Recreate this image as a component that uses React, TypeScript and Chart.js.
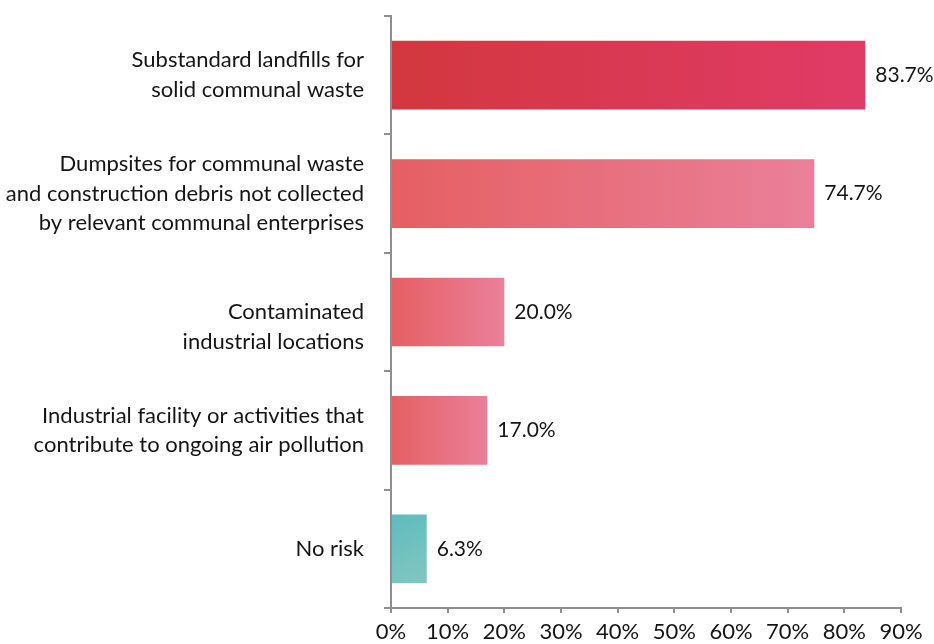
import React, { useEffect, useRef } from "react";
import { Chart, registerables } from "chart.js";

Chart.register(...registerables);

const categories: string[][] = [
  ["Substandard landfills for", "solid communal waste"],
  ["Dumpsites for communal waste", "and construction debris not collected", "by relevant communal enterprises"],
  ["", "Contaminated", "industrial locations"],
  ["Industrial facility or activities that", "contribute to ongoing air pollution"],
  ["No risk"],
];
const values: number[] = [83.7, 74.7, 20.0, 17.0, 6.3];
const valueLabels: string[] = ["83.7%", "74.7%", "20.0%", "17.0%", "6.3%"];
const gradientStops: [string, string][] = [
  ["#d3373e", "#e03b67"],
  ["#e55f62", "#ea809a"],
  ["#e55f62", "#ea809a"],
  ["#e55f62", "#ea809a"],
  ["#5fbbbf", "#82c7bf"],
];
const xTicks: number[] = [0, 10, 20, 30, 40, 50, 60, 70, 80, 90];

const FONT = "Lato, 'Open Sans', sans-serif";
const TEXT = "#151515";
const AXIS = "#8e8e8e";

const valueLabelPlugin = {
  id: "valueLabels",
  afterDatasetsDraw(chart: any) {
    const meta = chart.getDatasetMeta(0);
    const ctx = chart.ctx;
    ctx.save();
    ctx.font = `21px ${FONT}`;
    ctx.fillStyle = TEXT;
    ctx.textBaseline = "middle";
    ctx.textAlign = "left";
    meta.data.forEach((bar: any, i: number) => {
      ctx.fillText(valueLabels[i], bar.x + 10, bar.y);
    });
    ctx.restore();
  },
};

const zeroPad = (s: any) => {
  s.paddingTop = 0;
  s.paddingBottom = 0;
  s.paddingLeft = 0;
  s.paddingRight = 0;
};

export default function App() {
  const ref = useRef<HTMLCanvasElement | null>(null);
  useEffect(() => {
    if (!ref.current) return;
    const chart = new Chart(ref.current, {
      type: "bar",
      data: {
        labels: categories,
        datasets: [
          {
            data: values,
            backgroundColor: (c: any) => {
              const ch = c.chart;
              const i = c.dataIndex;
              if (i === undefined || !ch.chartArea) return gradientStops[0][0];
              const xs = ch.scales?.x;
              const ys = ch.scales?.y;
              if (!xs || !ys) return gradientStops[i][0];
              const x0 = xs.getPixelForValue(0);
              const x1 = xs.getPixelForValue(values[i]);
              const yc = ys.getPixelForValue(i);
              if (![x0, x1, yc].every((v) => Number.isFinite(v)) || x1 - x0 < 1) return gradientStops[i][0];
              const g = i === 4
                ? ch.ctx.createLinearGradient(x0, yc - 34, x1, yc + 34)
                : ch.ctx.createLinearGradient(x0, 0, x1, 0);
              g.addColorStop(0, gradientStops[i][0]);
              g.addColorStop(1, gradientStops[i][1]);
              return g;
            },
            borderWidth: 0,
            barPercentage: 0.58,
            categoryPercentage: 1,
          },
        ],
      },
      options: {
        indexAxis: "y",
        animation: false,
        responsive: true,
        maintainAspectRatio: false,
        layout: { padding: { top: 16, right: 33, left: 0, bottom: 0 } },
        plugins: {
          legend: { display: false },
          tooltip: { enabled: false },
        },
        scales: {
          x: {
            min: 0,
            max: 90,
            afterBuildTicks: (s: any) => {
              s.ticks = xTicks.map((v) => ({ value: v }));
            },
            afterFit: (s: any) => {
              s.height = 36;
              zeroPad(s);
            },
            grid: {
              drawOnChartArea: false,
              drawTicks: true,
              tickLength: 5,
              color: AXIS,
              lineWidth: 2,
            },
            border: { display: true, color: AXIS, width: 2 },
            ticks: {
              color: TEXT,
              font: { family: FONT, size: 22 },
              padding: 6,
              maxRotation: 0,
              callback: (v: any) => `${v}%`,
            },
          },
          y: {
            afterFit: (s: any) => {
              s.width = 391;
              zeroPad(s);
            },
            grid: {
              drawOnChartArea: false,
              drawTicks: true,
              tickLength: 7,
              color: AXIS,
              lineWidth: 2,
              offset: true,
            },
            border: { display: true, color: AXIS, width: 2 },
            ticks: {
              color: TEXT,
              font: { family: FONT, size: 22, lineHeight: 1.35 },
              padding: 20,
            },
          },
        },
      },
      plugins: [valueLabelPlugin],
    });
    return () => chart.destroy();
  }, []);
  return (
    <div style={{ position: "fixed", left: 0, top: 0, width: 934, height: 644, background: "#fff" }}>
      <canvas ref={ref} />
    </div>
  );
}
